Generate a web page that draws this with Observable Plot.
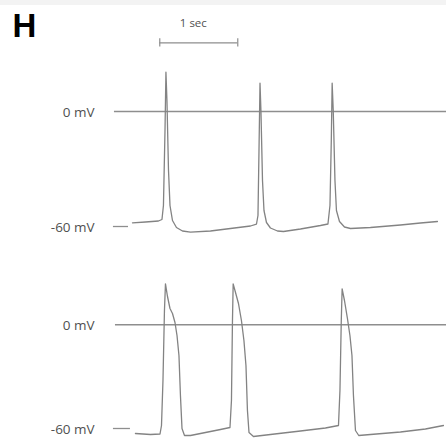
<!DOCTYPE html>
<html><head><meta charset="utf-8">
<script src="https://cdn.jsdelivr.net/npm/d3@7"></script>
<script src="https://cdn.jsdelivr.net/npm/@observablehq/plot@0.6"></script>
<style>
html,body{margin:0;padding:0;background:#fff;}
#wrap{position:relative;width:446px;height:438px;overflow:hidden;background:#fff;}
#band{position:absolute;left:0;top:0;width:446px;height:5px;background:#f3f3f3;z-index:2;}
#wrap svg{display:block;}
</style></head><body><div id="wrap"><div id="band"></div></div>
<script>
// Time (s) and membrane potential (mV), trace 1 (top)
const time1 = [0.0,0.167,0.333,0.378,0.397,0.417,0.429,0.442,0.462,0.481,0.513,0.564,0.641,0.744,1.0,1.256,1.513,1.59,1.609,1.622,1.635,1.647,1.667,1.686,1.718,1.769,1.859,1.936,2.154,2.41,2.506,2.532,2.549,2.56,2.574,2.596,2.615,2.654,2.718,2.795,3.051,3.436,3.692,3.91];
const volt1 = [-58.07,-57.65,-57.13,-56.35,-49.04,-9.91,20.5,5.74,-30.78,-49.04,-56.87,-60.52,-62.35,-62.97,-62.35,-61.04,-59.74,-58.7,-54.26,-20.35,14.77,0.52,-36.0,-51.65,-57.91,-60.78,-62.35,-62.61,-61.3,-59.48,-58.7,-49.04,-15.13,14.77,0.52,-36.0,-51.65,-57.39,-60.26,-61.04,-60.52,-59.22,-58.17,-57.39];
// trace 2 (bottom)
const time2 = [0.038,0.231,0.353,0.372,0.391,0.41,0.423,0.449,0.481,0.513,0.545,0.571,0.596,0.615,0.635,0.667,0.744,0.936,1.128,1.25,1.269,1.282,1.291,1.321,1.359,1.397,1.429,1.455,1.474,1.494,1.551,1.769,2.154,2.474,2.641,2.66,2.677,2.688,2.718,2.756,2.788,2.814,2.833,2.859,2.901,3.051,3.436,3.756,3.987];
const volt2 = [-62.89,-63.47,-63.18,-58.27,-32.23,8.27,23.72,16.37,9.43,6.54,1.33,-6.19,-17.76,-40.91,-60.0,-64.05,-64.05,-62.32,-60.58,-59.42,-43.8,2.49,23.72,18.69,12.32,2.49,-9.08,-23.55,-49.59,-62.32,-64.63,-63.47,-61.45,-59.71,-58.27,-38.01,2.49,20.83,14.06,3.65,-6.19,-17.76,-40.91,-61.16,-64.05,-63.47,-62.03,-60.29,-58.27];

const labelValues = [0, -60];
const labelTexts = ["0 mV", "-60 mV"];
const panelTitle = "H";
const scaleBarText = "1 sec";
const scaleBarSeconds = [0.35, 1.35];
const scaleBarLevel = 35.8;

const tDomain = [-1.692, 4.026];
const yDomain1 = [-72.52, 57.91];
const yDomain2 = [-65.79, 42.99];

const FONT = "'Open Sans', 'DejaVu Sans', sans-serif";
const LINE = "#8e8e8e";
const TRACE = "#838383";
const TEXTC = "#505050";

const trace1 = time1.map((t, i) => ({t, v: volt1[i]}));
const trace2 = time2.map((t, i) => ({t, v: volt2[i]}));
const labels = labelValues.map((v, i) => ({v, text: labelTexts[i], t: -0.485}));

function panel(trace, yDomain, height, zeroStart, tickEnd, extra) {
  return Plot.plot({
    width: 446, height,
    marginTop: 0, marginBottom: 0, marginLeft: 0, marginRight: 0,
    x: {domain: tDomain, axis: null},
    y: {domain: yDomain, axis: null},
    style: {fontFamily: FONT, background: "transparent", overflow: "visible"},
    marks: [
      Plot.ruleY([{v: 0, t1: zeroStart, t2: tDomain[1]}], {y: "v", x1: "t1", x2: "t2", stroke: LINE, strokeWidth: 1.5}),
      Plot.ruleY([{v: -60, t1: -0.244, t2: tickEnd}], {y: "v", x1: "t1", x2: "t2", stroke: LINE, strokeWidth: 1.3}),
      Plot.line(trace, {x: "t", y: "v", stroke: TRACE, strokeWidth: 1.3}),
      Plot.text(labels, {x: "t", y: "v", text: "text", textAnchor: "end", fontSize: 13.5, fill: TEXTC, dy: 1}),
      ...extra
    ]
  });
}

const topPanel = panel(trace1, yDomain1, 250, -0.231, -0.051, [
  Plot.ruleY([{v: scaleBarLevel, t1: scaleBarSeconds[0], t2: scaleBarSeconds[1]}], {y: "v", x1: "t1", x2: "t2", stroke: LINE, strokeWidth: 1.3}),
  Plot.ruleX(scaleBarSeconds, {x: d => d, y1: scaleBarLevel - 2.1, y2: scaleBarLevel + 2.1, stroke: LINE, strokeWidth: 1.2}),
  Plot.text([scaleBarText], {x: 0.78, y: 45.9, text: d => d, fontSize: 11.5, fill: TEXTC}),
  Plot.text([panelTitle], {frameAnchor: "top-left", text: d => d, dx: 12, dy: 13, fontSize: 33, fontWeight: "bold", fill: "#000", fontFamily: "'Liberation Sans', Arial, sans-serif"})
]);
const bottomPanel = panel(trace2, yDomain2, 188, -0.218, -0.026, []);

const wrap = document.getElementById("wrap");
wrap.appendChild(topPanel);
wrap.appendChild(bottomPanel);
</script>
</body></html>
